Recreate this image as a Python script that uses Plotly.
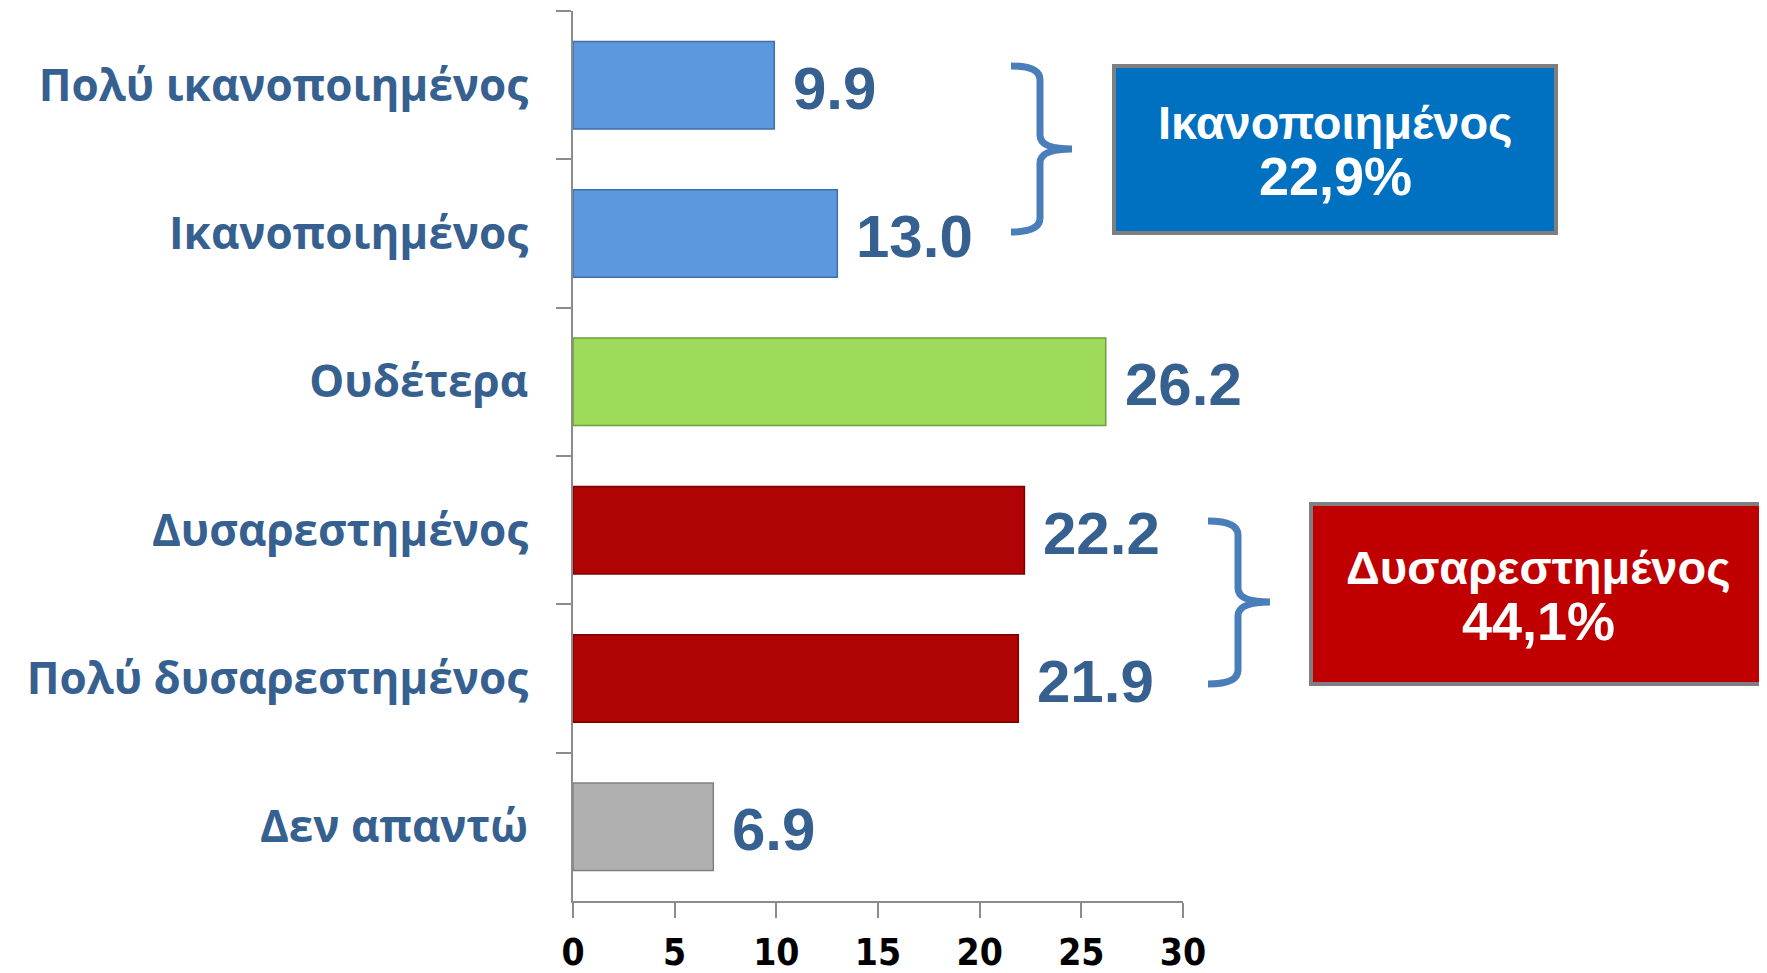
import plotly.graph_objects as go

categories = ["Πολύ ικανοποιημένος", "Ικανοποιημένος", "Ουδέτερα",
              "Δυσαρεστημένος", "Πολύ δυσαρεστημένος", "Δεν απαντώ"]
values = [9.9, 13.0, 26.2, 22.2, 21.9, 6.9]
value_labels = ["9.9", "13.0", "26.2", "22.2", "21.9", "6.9"]
bar_colors = ["#5B98DE", "#5B98DE", "#9EDB5A", "#B00404", "#B00404", "#B0B0B0"]
bar_edges = ["#3F6FA8", "#3F6FA8", "#6E9E3A", "#7A0000", "#7A0000", "#808080"]
x_ticks = [0, 5, 10, 15, 20, 25, 30]
box_line1 = ["Ικανοποιημένος", "Δυσαρεστημένος"]
box_line2 = ["22,9%", "44,1%"]

W, H = 1767, 973
OFF = 8  # page body margin
L, R, T, B = 573, 1183, 11, 901  # plot area in page pixels

def px(x):
    return (x - L) / (R - L)

def py(y):
    return (B - y) / (B - T)

TXT = "#36608F"

fig = go.Figure()
fig.add_trace(go.Bar(
    x=values, y=categories, orientation="h",
    marker=dict(color=bar_colors, line=dict(color=bar_edges, width=1.5)),
    hoverinfo="skip", showlegend=False,
))

annotations = []
for c, v, t in zip(categories, values, value_labels):
    annotations.append(dict(
        x=v, y=c, xref="x", yref="y", text=t, showarrow=False,
        xanchor="left", yanchor="middle", xshift=17, yshift=-3,
        font=dict(family="Liberation Sans, Arial", size=60, color=TXT, weight="bold"),
    ))

shapes = []

def brace(x0, x1, x2, ytop, ymid, ybot, r=14):
    pts = (f"M {px(x0)},{py(ytop)} "
           f"Q {px(x1)},{py(ytop)} {px(x1)},{py(ytop + r)} "
           f"L {px(x1)},{py(ymid - r)} "
           f"Q {px(x1)},{py(ymid)} {px(x2)},{py(ymid)} "
           f"Q {px(x1)},{py(ymid)} {px(x1)},{py(ymid + r)} "
           f"L {px(x1)},{py(ybot - r)} "
           f"Q {px(x1)},{py(ybot)} {px(x0)},{py(ybot)}")
    return dict(type="path", path=pts, xref="paper", yref="paper",
                line=dict(color="#4A7EBB", width=7), layer="above")

shapes.append(brace(1011, 1040, 1072, 66, 149, 232))
shapes.append(brace(1208, 1238, 1270, 521, 602, 684))

boxes = [
    (1114, 66, 1556, 233, "#0070C0"),
    (1311, 504, 1765, 684, "#C00000"),
]
for (x0, y0, x1, y1, col), t1, t2 in zip(boxes, box_line1, box_line2):
    shapes.append(dict(type="rect", xref="paper", yref="paper",
                       x0=px(x0), x1=px(x1), y0=py(y1), y1=py(y0),
                       fillcolor=col, line=dict(color="#7F7F7F", width=4),
                       layer="above"))
    cy = (y0 + y1) / 2
    annotations.append(dict(
        x=px((x0 + x1) / 2), y=py(cy - 27), xref="paper", yref="paper",
        text=t1, showarrow=False, xanchor="center", yanchor="middle",
        font=dict(family="Liberation Sans, Arial", size=47, color="white", weight="bold"),
    ))
    annotations.append(dict(
        x=px((x0 + x1) / 2), y=py(cy + 27), xref="paper", yref="paper",
        text=t2, showarrow=False, xanchor="center", yanchor="middle",
        font=dict(family="Liberation Sans, Arial", size=54, color="white", weight="bold"),
    ))

fig.update_layout(
    width=W, height=H,
    margin=dict(l=L - OFF, r=W - (R - OFF), t=T - OFF, b=H - (B - OFF), pad=0, autoexpand=False),
    paper_bgcolor="white", plot_bgcolor="white",
    bargap=0.41,
    shapes=shapes, annotations=annotations,
    xaxis=dict(
        range=[0, 30], tickvals=x_ticks, ticktext=[str(v) for v in x_ticks],
        ticks="outside", ticklen=15, tickwidth=2, tickcolor="#8C8C8C",
        showline=True, linecolor="#8C8C8C", linewidth=2,
        showgrid=False, zeroline=False, automargin=False,
        tickfont=dict(family="Liberation Sans Narrow, DejaVu Sans Condensed", size=37,
                      color="black", weight="bold"),
        ticklabelstandoff=3,
    ),
    yaxis=dict(
        type="category", categoryorder="array", categoryarray=categories,
        range=[5.5, -0.5],
        ticks="outside", ticklen=15, tickwidth=2, tickcolor="#8C8C8C",
        tickson="boundaries",
        showline=True, linecolor="#8C8C8C", linewidth=2,
        showgrid=False, zeroline=False, automargin=False,
        tickfont=dict(family="Open Sans, Noto Sans", size=44, color=TXT, weight="bold"),
        ticklabelstandoff=34,
    ),
)

fig.write_html("out.html")
